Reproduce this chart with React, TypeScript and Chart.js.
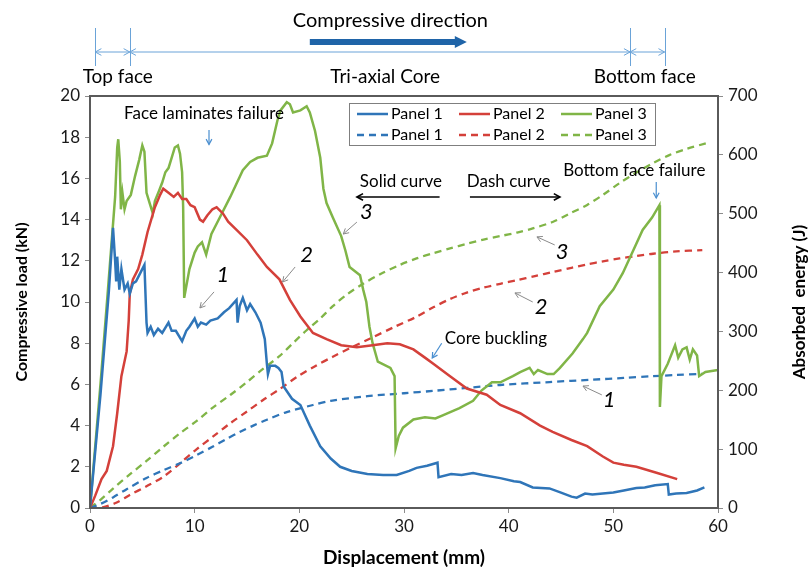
import React, { useEffect, useRef } from "react";
import { Chart, registerables } from "chart.js";

Chart.register(...registerables);

type Pt = [number, number];

// Compressive load (kN) versus displacement (mm)
const panel1Load: Pt[] = [
  [0, 0], [1.0, 5.5], [1.8, 10.5], [2.2, 13.6], [2.4, 12.0], [2.5, 11.0], [2.6, 12.2], [2.8, 10.6],
  [3.0, 11.6], [3.3, 10.6], [3.6, 10.9], [3.8, 10.4], [4.1, 10.9], [4.4, 11.0], [4.8, 11.4], [5.2, 11.8],
  [5.3, 10.4], [5.4, 9.0], [5.5, 8.5], [5.8, 8.8], [6.1, 8.4], [6.5, 8.7], [6.9, 8.5], [7.5, 9.0],
  [7.8, 8.6], [8.2, 8.6], [8.8, 8.1], [9.2, 8.6], [9.5, 8.8], [10.0, 9.2], [10.3, 8.8], [10.6, 9.0],
  [11.1, 8.9], [11.5, 9.1], [12.2, 9.2], [12.8, 9.5], [13.3, 9.7], [14.0, 10.1], [14.1, 9.0], [14.3, 9.8],
  [14.6, 10.2], [15.0, 9.6], [15.3, 9.9], [15.8, 9.5], [16.3, 9.0], [16.7, 8.2], [16.9, 7.0], [17.0, 6.5],
  [17.2, 6.9], [17.7, 6.9], [18.0, 6.8], [18.3, 6.6], [18.5, 5.9], [19.3, 5.3], [20.1, 5.0], [21.0, 4.0],
  [22.0, 3.0], [23.0, 2.4], [23.9, 2.0], [25.0, 1.8], [26.5, 1.65], [28.0, 1.6], [29.3, 1.6], [30.5, 1.8],
  [31.2, 1.95], [32.2, 2.05], [33.2, 2.2], [33.3, 1.5], [34.5, 1.65], [35.5, 1.6], [36.6, 1.7], [37.5, 1.6],
  [39.2, 1.45], [40.5, 1.3], [41.1, 1.26], [42.3, 1.0], [43.9, 0.95], [45.0, 0.75], [46.0, 0.55], [46.5, 0.5],
  [47.3, 0.7], [48.0, 0.65], [49.0, 0.7], [50.0, 0.75], [51.0, 0.85], [52.2, 0.97], [53.0, 1.0], [54.0, 1.1],
  [55.2, 1.16], [55.3, 0.65], [56.0, 0.7], [57.0, 0.73], [58.0, 0.85], [58.7, 1.0],
];

const panel2Load: Pt[] = [
  [0, 0], [0.5, 0.6], [1.1, 1.4], [1.6, 1.8], [2.2, 3.0], [2.6, 4.6], [3.0, 6.4], [3.5, 7.6],
  [3.7, 9.1], [3.8, 10.4], [4.1, 11.1], [4.6, 11.6], [5.0, 12.3], [5.5, 13.4], [6.2, 14.6], [6.7, 15.2],
  [7.0, 15.5], [7.5, 15.3], [8.0, 15.1], [8.4, 15.3], [8.8, 15.0], [9.2, 15.0], [9.6, 14.7], [10.0, 14.6],
  [10.5, 14.0], [10.8, 13.9], [11.2, 14.2], [11.7, 14.5], [12.1, 14.6], [12.7, 14.3], [13.2, 13.9], [14.0, 13.5],
  [15.0, 13.0], [16.0, 12.3], [16.9, 11.7], [18.1, 11.1], [19.1, 10.1], [20.1, 9.3], [21.3, 8.5], [22.6, 8.2],
  [24.0, 7.9], [25.5, 7.8], [27.0, 7.9], [28.4, 8.0], [29.6, 7.95], [30.9, 7.7], [32.0, 7.3], [32.8, 7.0],
  [34.4, 6.4], [36.0, 5.8], [37.9, 5.5], [39.2, 5.0], [41.1, 4.6], [43.0, 4.0], [44.2, 3.7], [46.0, 3.3],
  [47.5, 3.0], [49.0, 2.5], [50.0, 2.2], [51.0, 2.1], [52.2, 2.0], [54.2, 1.7], [56.1, 1.4],
];

const panel3Load: Pt[] = [
  [0, 0], [1.0, 6.0], [1.7, 10.5], [2.4, 15.1], [2.6, 17.5], [2.7, 17.9], [2.85, 16.8], [2.95, 14.5],
  [3.1, 15.3], [3.3, 14.5], [3.5, 14.9], [3.9, 15.2], [4.3, 16.1], [4.7, 16.9], [5.0, 17.6], [5.2, 17.3],
  [5.3, 16.3], [5.4, 15.3], [5.7, 14.8], [6.0, 14.3], [6.2, 14.9], [6.6, 15.4], [6.9, 15.8], [7.2, 16.3],
  [7.5, 16.5], [7.8, 17.0], [8.1, 17.5], [8.4, 17.6], [8.6, 17.2], [8.8, 16.3], [8.9, 14.6], [9.0, 10.2],
  [9.5, 11.6], [10.0, 12.4], [10.3, 12.7], [10.7, 12.9], [11.1, 12.3], [11.6, 13.3], [12.4, 14.1], [13.4, 15.1],
  [14.6, 16.4], [15.3, 16.8], [16.0, 17.0], [16.9, 17.1], [17.4, 17.7], [17.9, 18.8], [18.2, 19.3], [18.8, 19.7],
  [19.1, 19.6], [19.4, 19.2], [20.1, 19.3], [20.7, 19.5], [21.0, 19.2], [21.5, 18.3], [22.0, 17.0], [22.3, 15.5],
  [22.6, 14.8], [23.2, 14.1], [24.0, 13.2], [24.4, 12.5], [24.8, 11.7], [25.8, 11.3], [26.1, 10.6], [26.4, 10.0],
  [26.7, 8.8], [27.0, 8.0], [27.5, 7.1], [28.7, 6.8], [29.1, 6.4], [29.2, 2.9], [29.5, 3.5], [29.9, 3.9],
  [30.9, 4.3], [32.0, 4.4], [33.0, 4.35], [33.7, 4.5], [35.3, 4.85], [36.6, 5.2], [37.4, 5.7], [38.4, 6.1],
  [39.2, 6.1], [40.4, 6.4], [41.1, 6.6], [42.0, 6.8], [42.4, 6.5], [42.8, 6.7], [43.7, 6.5], [44.3, 6.5],
  [44.9, 6.8], [46.1, 7.5], [47.1, 8.2], [47.5, 8.5], [48.7, 9.8], [50.0, 10.6], [50.9, 11.4], [51.9, 12.5],
  [52.8, 13.5], [53.7, 14.1], [54.4, 14.7], [54.45, 4.9], [54.6, 6.4], [55.2, 7.0], [55.9, 7.9], [56.2, 7.3],
  [56.6, 7.7], [57.0, 7.8], [57.3, 7.2], [57.6, 7.7], [58.0, 7.4], [58.2, 6.4], [58.8, 6.6], [60.0, 6.7],
];

// Absorbed energy (J) versus displacement (mm)
const panel1Energy: Pt[] = [
  [0, 0], [1, 7], [2.2, 18], [3.5, 32], [5.4, 51], [7, 64], [8.6, 76], [10.2, 90], [11.7, 104], [13, 117],
  [14.3, 129], [15.6, 140], [16.9, 150], [18.8, 163], [21.3, 175], [23, 182], [26.5, 190], [30, 195],
  [32.8, 199], [36, 204], [39.2, 209], [43.9, 214], [48, 218], [51, 221], [53.8, 224], [56, 226], [58.5, 228],
];

const panel2Energy: Pt[] = [
  [0, 0], [1.2, 1], [2.5, 9], [3.8, 22], [5.4, 37], [7.0, 53], [8.6, 76], [10.2, 100], [11.8, 122],
  [13.4, 144], [15, 164], [16.5, 183], [18.2, 203], [19.8, 223], [21.5, 241], [23.2, 257], [25, 273],
  [27, 290], [29, 307], [31.2, 325], [32.8, 341], [34.4, 355], [36, 366], [37.5, 374], [39.2, 381],
  [40.8, 387], [42.5, 394], [44.2, 401], [46, 408], [47.5, 414], [49, 419], [50.6, 424], [52.2, 428],
  [53.8, 432], [56, 436], [58.5, 438],
];

const panel3Energy: Pt[] = [
  [0, 0], [1, 14], [2.2, 33], [3.8, 57], [5.4, 80], [7, 104], [8.6, 127], [10.2, 148], [11.7, 170],
  [13.4, 192], [15, 214], [16.5, 236], [18.1, 258], [19.5, 282], [20.7, 302], [22, 322], [23.2, 343],
  [24.5, 362], [26, 380], [27.8, 398], [29.6, 413], [31.2, 424], [32.8, 433], [34.4, 441], [36, 449],
  [37.6, 456], [39.2, 462], [40.8, 468], [42.3, 475], [44.2, 486], [45.8, 500], [47.5, 515], [49, 532],
  [50.6, 552], [52.2, 570], [53.8, 586], [55.4, 600], [57, 610], [58.9, 620],
];

const panelNames = ["Panel 1", "Panel 2", "Panel 3"];

// Layer boundaries through the sandwich thickness (mm of displacement)
const layerBounds = [0.5, 3.8, 51.6, 54.9];
const layerLabels: { text: string; x: number }[] = [
  { text: "Top face", x: 2.65 },
  { text: "Tri-axial Core", x: 28.2 },
  { text: "Bottom face", x: 53.0 },
];

const FONT = "Lato, 'Open Sans', 'DejaVu Sans', sans-serif";
const BLUE = "#2f75b8";
const RED = "#d4403a";
const GREEN = "#80b547";
const NOTE_BLUE = "#4a8fd0";
const DIM_BLUE = "#6aa3d8";
const GRAY_ARROW = "#8a8a8a";

// Text notes placed in data coordinates (x: mm, y: kN)
const notes: { text: string; x: number; y: number; align?: CanvasTextAlign; italic?: boolean; size?: number }[] = [
  { text: "Face laminates failure", x: 10.9, y: 19.17 },
  { text: "Solid curve", x: 29.7, y: 15.83 },
  { text: "Dash curve", x: 40.0, y: 15.83 },
  { text: "Bottom face failure", x: 52.0, y: 16.36 },
  { text: "Core buckling", x: 33.9, y: 8.25, align: "left" },
  { text: "1", x: 12.7, y: 11.31, italic: true, size: 22 },
  { text: "2", x: 20.7, y: 12.28, italic: true, size: 22 },
  { text: "3", x: 26.4, y: 14.37, italic: true, size: 22 },
  { text: "2", x: 43.1, y: 9.76, italic: true, size: 22 },
  { text: "3", x: 45.1, y: 12.43, italic: true, size: 22 },
  { text: "1", x: 49.6, y: 5.24, italic: true, size: 22 },
];

// Pointer arrows in data coordinates: [x0, y0] -> [x1, y1]
const pointers: { from: Pt; to: Pt; color: string; width: number; head: number }[] = [
  { from: [11.37, 18.35], to: [11.37, 17.65], color: NOTE_BLUE, width: 1.2, head: 6 },
  { from: [33.4, 15.1], to: [25.5, 15.1], color: "#000000", width: 1.6, head: 7 },
  { from: [36.3, 15.1], to: [44.9, 15.1], color: "#000000", width: 1.6, head: 7 },
  { from: [54.1, 15.83], to: [54.1, 15.05], color: NOTE_BLUE, width: 1.2, head: 6 },
  { from: [33.6, 8.0], to: [32.7, 7.28], color: NOTE_BLUE, width: 1.2, head: 6 },
  { from: [11.85, 10.49], to: [10.5, 9.71], color: GRAY_ARROW, width: 1, head: 6 },
  { from: [19.6, 11.7], to: [18.4, 10.97], color: GRAY_ARROW, width: 1, head: 6 },
  { from: [25.5, 13.88], to: [24.2, 13.3], color: GRAY_ARROW, width: 1, head: 6 },
  { from: [42.3, 10.0], to: [40.6, 10.44], color: GRAY_ARROW, width: 1, head: 6 },
  { from: [44.4, 12.77], to: [42.7, 13.16], color: GRAY_ARROW, width: 1, head: 6 },
  { from: [48.9, 5.49], to: [47.1, 5.92], color: GRAY_ARROW, width: 1, head: 6 },
];

function chevron(ctx: CanvasRenderingContext2D, x0: number, y0: number, x1: number, y1: number, size: number) {
  const a = Math.atan2(y1 - y0, x1 - x0);
  ctx.beginPath();
  ctx.moveTo(x1 - size * Math.cos(a - 0.5), y1 - size * Math.sin(a - 0.5));
  ctx.lineTo(x1, y1);
  ctx.lineTo(x1 - size * Math.cos(a + 0.5), y1 - size * Math.sin(a + 0.5));
  ctx.stroke();
}

function arrowLine(ctx: CanvasRenderingContext2D, x0: number, y0: number, x1: number, y1: number, size: number) {
  ctx.beginPath();
  ctx.moveTo(x0, y0);
  ctx.lineTo(x1, y1);
  ctx.stroke();
  chevron(ctx, x0, y0, x1, y1, size);
}

const decorations = {
  id: "decorations",
  afterDraw(chart: any) {
    const { ctx, chartArea: ca, scales } = chart;
    const xs = scales.x;
    const ys = scales.y;
    const px = (v: number) => xs.getPixelForValue(v);
    const py = (v: number) => ys.getPixelForValue(v);
    ctx.save();

    // plot frame
    ctx.strokeStyle = "#5a5a5a";
    ctx.lineWidth = 2;
    ctx.strokeRect(ca.left, ca.top, ca.right - ca.left, ca.bottom - ca.top);

    // right axis title
    ctx.save();
    ctx.translate(800, (ca.top + ca.bottom) / 2);
    ctx.rotate(-Math.PI / 2);
    ctx.fillStyle = "#000";
    ctx.font = `bold 17px ${FONT}`;
    ctx.textAlign = "center";
    ctx.textBaseline = "middle";
    ctx.fillText("Absorbed  energy (J)", 0, 0);
    ctx.restore();

    // layer dimension band above the plot
    const bandY = ca.top - 44;
    ctx.strokeStyle = DIM_BLUE;
    ctx.lineWidth = 1;
    layerBounds.forEach((b) => {
      const x = Math.round(px(b)) + 0.5;
      ctx.beginPath();
      ctx.moveTo(x, ca.top - 68);
      ctx.lineTo(x, ca.top - 30);
      ctx.stroke();
    });
    for (let i = 0; i < layerBounds.length - 1; i++) {
      const a = px(layerBounds[i]);
      const b = px(layerBounds[i + 1]);
      ctx.beginPath();
      ctx.moveTo(a, bandY);
      ctx.lineTo(b, bandY);
      ctx.stroke();
      chevron(ctx, b, bandY, a, bandY, 7);
      chevron(ctx, a, bandY, b, bandY, 7);
    }
    ctx.fillStyle = "#000";
    ctx.font = `19px ${FONT}`;
    ctx.textAlign = "center";
    ctx.textBaseline = "middle";
    layerLabels.forEach((l) => ctx.fillText(l.text, px(l.x), ca.top - 19));

    // compressive direction arrow
    ctx.font = `20px ${FONT}`;
    ctx.fillText("Compressive direction", px(28.7), ca.top - 75);
    const ax0 = px(21.0);
    const ax1 = px(36.0);
    const ay = ca.top - 54;
    ctx.fillStyle = "#1f64a8";
    ctx.fillRect(ax0, ay - 3, ax1 - ax0 - 11, 6);
    ctx.beginPath();
    ctx.moveTo(ax1 - 12, ay - 6);
    ctx.lineTo(ax1, ay);
    ctx.lineTo(ax1 - 12, ay + 6);
    ctx.closePath();
    ctx.fill();

    // legend
    const lx = ca.left + 259;
    const lt = ca.top + 7;
    ctx.fillStyle = "#fff";
    ctx.fillRect(lx, lt, 306, 42);
    ctx.strokeStyle = "#7f7f7f";
    ctx.lineWidth = 1;
    ctx.strokeRect(lx + 0.5, lt + 0.5, 306, 42);
    const ds = chart.data.datasets;
    ctx.font = `16px ${FONT}`;
    ctx.textAlign = "left";
    ctx.textBaseline = "middle";
    ds.forEach((d: any, i: number) => {
      const col = i % 3;
      const row = Math.floor(i / 3);
      const x = lx + 8 + col * 102;
      const y = lt + 11 + row * 21;
      ctx.strokeStyle = d.borderColor;
      ctx.lineWidth = 2.5;
      ctx.setLineDash(d.borderDash || []);
      ctx.beginPath();
      ctx.moveTo(x, y);
      ctx.lineTo(x + 31, y);
      ctx.stroke();
      ctx.setLineDash([]);
      ctx.fillStyle = "#000";
      ctx.fillText(d.label, x + 34, y);
    });

    // notes
    notes.forEach((n) => {
      ctx.font = `${n.italic ? "italic " : ""}${n.size || 17}px ${FONT}`;
      ctx.textAlign = n.align || "center";
      ctx.fillStyle = "#000";
      ctx.fillText(n.text, px(n.x), py(n.y));
    });

    // pointers
    pointers.forEach((p) => {
      ctx.strokeStyle = p.color;
      ctx.lineWidth = p.width;
      arrowLine(ctx, px(p.from[0]), py(p.from[1]), px(p.to[0]), py(p.to[1]), p.head);
    });

    ctx.restore();
  },
};

const toXY = (pts: Pt[]) => pts.map(([x, y]) => ({ x, y }));

export default function App() {
  const ref = useRef<HTMLCanvasElement | null>(null);

  useEffect(() => {
    document.body.style.margin = "0";
    const canvas = ref.current;
    if (!canvas) return;
    Chart.defaults.font.family = FONT;
    Chart.defaults.color = "#1a1a1a";

    const solid = (label: string, color: string, pts: Pt[]) => ({
      label,
      data: toXY(pts),
      borderColor: color,
      backgroundColor: color,
      borderWidth: 2.5,
      pointRadius: 0,
      tension: 0,
      yAxisID: "y",
    });
    const dashed = (label: string, color: string, pts: Pt[]) => ({
      label,
      data: toXY(pts),
      borderColor: color,
      backgroundColor: color,
      borderWidth: 2.3,
      borderDash: [7, 5],
      pointRadius: 0,
      tension: 0.3,
      yAxisID: "y1",
    });

    const chart = new Chart(canvas, {
      type: "line",
      data: {
        datasets: [
          solid(panelNames[0], BLUE, panel1Load),
          solid(panelNames[1], RED, panel2Load),
          solid(panelNames[2], GREEN, panel3Load),
          dashed(panelNames[0], BLUE, panel1Energy),
          dashed(panelNames[1], RED, panel2Energy),
          dashed(panelNames[2], GREEN, panel3Energy),
        ] as any,
      },
      options: {
        animation: false,
        responsive: false,
        maintainAspectRatio: false,
        layout: { padding: { top: 96, left: 0, right: 0, bottom: 0 } },
        plugins: { legend: { display: false }, tooltip: { enabled: false } },
        scales: {
          x: {
            type: "linear",
            min: 0,
            max: 60,
            ticks: { stepSize: 10, padding: 3, font: { size: 17 }, color: "#1a1a1a" },
            grid: { drawOnChartArea: false, drawTicks: true, tickLength: 5, color: "#8c8c8c" },
            border: { display: false },
            title: {
              display: true,
              text: "Displacement (mm)",
              font: { size: 19, weight: "bold" },
              color: "#000",
              padding: { top: 0, bottom: 5 },
            },
            afterFit: (s: any) => {
              s.height = 66;
            },
          },
          y: {
            type: "linear",
            position: "left",
            min: 0,
            max: 20,
            ticks: { stepSize: 2, padding: 5, font: { size: 17 }, color: "#1a1a1a" },
            grid: { drawOnChartArea: false, drawTicks: true, tickLength: 5, color: "#8c8c8c" },
            border: { display: false },
            title: {
              display: true,
              text: "Compressive load (kN)",
              font: { size: 16, weight: "bold" },
              color: "#000",
              padding: { top: 12, bottom: 0 },
            },
            afterFit: (s: any) => {
              s.width = 90;
            },
          },
          y1: {
            type: "linear",
            position: "right",
            min: 0,
            max: 700,
            ticks: { stepSize: 100, padding: 5, font: { size: 17 }, color: "#1a1a1a" },
            grid: { drawOnChartArea: false, drawTicks: true, tickLength: 5, color: "#8c8c8c" },
            border: { display: false },
            afterFit: (s: any) => {
              s.width = 92;
            },
          },
        },
      } as any,
      plugins: [decorations],
    });

    return () => chart.destroy();
  }, []);

  return (
    <div style={{ width: 810, height: 574, background: "#fff" }}>
      <canvas ref={ref} width={810} height={574} style={{ display: "block", width: 810, height: 574 }} />
    </div>
  );
}
